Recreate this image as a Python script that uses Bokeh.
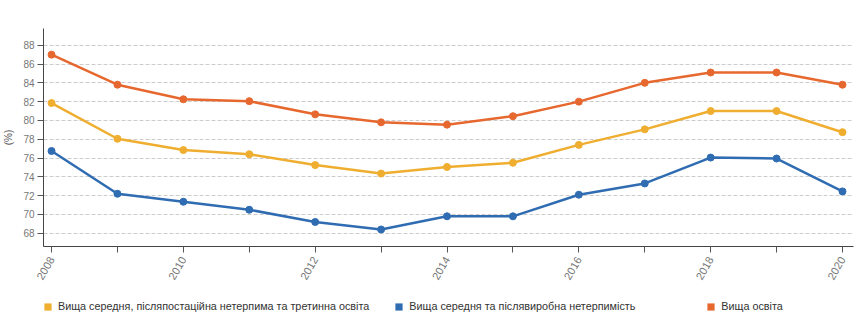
import math
from bokeh.plotting import figure
from bokeh.layouts import column
from bokeh.models import (Range1d, FixedTicker, Legend, LegendItem, ColumnDataSource)
from bokeh.embed import file_html
from bokeh.resources import INLINE

years = [2008, 2009, 2010, 2011, 2012, 2013, 2014, 2015, 2016, 2017, 2018, 2019, 2020]
upper_secondary = [81.85, 78.05, 76.85, 76.4, 75.25, 74.35, 75.05, 75.5, 77.4, 79.05, 81.0, 81.0, 78.75]
post_secondary = [76.75, 72.2, 71.35, 70.5, 69.2, 68.4, 69.8, 69.8, 72.1, 73.3, 76.05, 75.95, 72.45]
higher = [87.0, 83.8, 82.25, 82.05, 80.65, 79.8, 79.55, 80.45, 82.0, 84.0, 85.1, 85.1, 83.8]
y_ticks = [68, 70, 72, 74, 76, 78, 80, 82, 84, 86, 88]

labels = [
    "Вища середня, післяпостаційна нетерпима та третинна освіта",
    "Вища середня та післявиробна нетерпимість",
    "Вища освіта",
]
colors = ["#EFAE2F", "#2F6CB2", "#E7682F"]
series = [upper_secondary, post_secondary, higher]

FONT = "Liberation Sans"

p = figure(width=859, height=290, output_backend="svg", toolbar_location=None,
           x_range=Range1d(2007.878, 2020.167), y_range=Range1d(66.59, 89.78),
           min_border_left=43, min_border_right=6, min_border_top=28, min_border_bottom=44)
p.outline_line_color = None
p.background_fill_color = "white"
p.border_fill_color = "white"

# grid
p.xgrid.grid_line_color = None
p.ygrid.grid_line_color = "#cccccc"
p.ygrid.grid_line_dash = "4 2"
p.ygrid.grid_line_width = 1

# axes
p.xaxis.ticker = FixedTicker(ticks=years)
p.xaxis.major_label_overrides = {y: (str(y) if y % 2 == 0 else "") for y in years}
p.xaxis.major_label_orientation = math.pi / 3
p.yaxis.ticker = FixedTicker(ticks=y_ticks)
p.yaxis.axis_label = "(%)"
for ax in (p.xaxis[0], p.yaxis[0]):
    ax.axis_line_color = "#444444"
    ax.major_tick_line_color = "#555555"
    ax.minor_tick_line_color = None
    ax.major_tick_out = 6
    ax.major_tick_in = 0
    ax.major_label_text_color = "#777777"
    ax.major_label_text_font = FONT
    ax.axis_label_text_font = FONT
    ax.axis_label_text_color = "#555555"
    ax.axis_label_text_font_style = "normal"
p.xaxis.major_label_text_font_size = "11px"
p.yaxis.major_label_text_font_size = "10px"
p.yaxis.axis_label_text_font_size = "10px"
p.yaxis.axis_label_standoff = 6
p.yaxis.major_label_standoff = 3

for vals, col in zip(series, colors):
    src = ColumnDataSource(dict(x=years, y=vals))
    p.line("x", "y", source=src, line_color=col, line_width=2.5)
    p.scatter("x", "y", source=src, size=7, fill_color=col, line_color=col)

# legend strip below the chart (its frame is aligned with the chart frame)
lf = figure(width=859, height=30, output_backend="svg", toolbar_location=None,
            x_range=Range1d(0, 1), y_range=Range1d(0, 1),
            x_axis_type=None, y_axis_type=None,
            min_border_left=0, min_border_right=0, min_border_top=0, min_border_bottom=0)
lf.outline_line_color = None
lf.xgrid.grid_line_color = None
lf.ygrid.grid_line_color = None

items = []
for vals, col, lab in zip(series, colors, labels):
    src = ColumnDataSource(dict(x=years, y=vals))
    # zero-area quads: nothing drawn, only the square legend swatch
    proxy = lf.quad(left="x", right="x", top="y", bottom="y", source=src,
                    fill_color=col, line_color=None)
    items.append(LegendItem(label=lab, renderers=[proxy]))

legend = Legend(items=items, orientation="horizontal", location=(0, 8),
                glyph_width=9, glyph_height=9, label_standoff=6, spacing=25,
                label_width=272, padding=0, margin=0,
                label_text_font=FONT, label_text_font_size="10.8px",
                label_text_color="#333333", border_line_color=None,
                background_fill_alpha=0)
lf.add_layout(legend, "center")

open("out.html", "w").write(file_html(column(p, lf), INLINE))
